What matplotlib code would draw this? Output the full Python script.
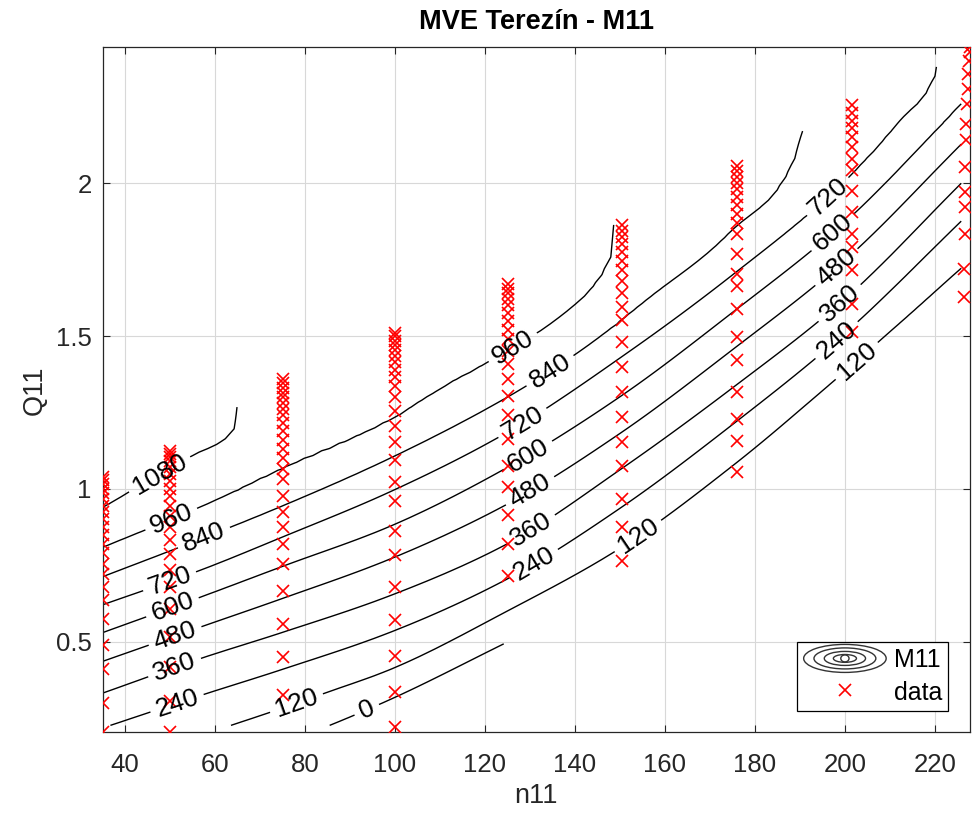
import numpy as np
import matplotlib
matplotlib.use("Agg")
import matplotlib.pyplot as plt
from matplotlib.legend_handler import HandlerBase
from matplotlib.patches import Ellipse
from matplotlib.lines import Line2D
from matplotlib.ticker import FuncFormatter

plt.rcParams['font.family'] = ['Liberation Sans', 'DejaVu Sans']

# ---------------- measured points (red x markers) ----------------
col_n11 = [35.05, 50.0, 75.1, 100.1, 125.2, 150.5, 176.0, 201.5]
q11_35 = [0.205, 0.30, 0.41, 0.49, 0.575, 0.635, 0.68, 0.72, 0.755, 0.79, 0.82,
          0.85, 0.875, 0.90, 0.925, 0.945, 0.965, 0.985, 1.0, 1.015, 1.03, 1.04]
q11_50 = [0.203, 0.307, 0.416, 0.514, 0.608, 0.678, 0.733, 0.788, 0.831, 0.874,
          0.91, 0.945, 0.975, 1.0, 1.025, 1.05, 1.07, 1.09, 1.105, 1.115, 1.125]
q11_75 = [0.324, 0.449, 0.558, 0.667, 0.755, 0.82, 0.874, 0.923, 0.978, 1.033,
          1.065, 1.10, 1.13, 1.16, 1.19, 1.215, 1.24, 1.26, 1.28, 1.30, 1.315,
          1.33, 1.345, 1.36]
q11_100 = [0.22, 0.334, 0.454, 0.569, 0.678, 0.782, 0.863, 0.961, 1.022, 1.093,
           1.153, 1.207, 1.256, 1.30, 1.335, 1.365, 1.39, 1.415, 1.435, 1.455,
           1.47, 1.485, 1.50, 1.51]
q11_125 = [0.716, 0.82, 0.913, 1.005, 1.076, 1.164, 1.24, 1.305, 1.36, 1.41,
           1.45, 1.49, 1.52, 1.55, 1.575, 1.60, 1.62, 1.64, 1.655, 1.67]
q11_150 = [0.765, 0.874, 0.967, 1.076, 1.153, 1.234, 1.316, 1.398, 1.48, 1.551,
           1.594, 1.64, 1.68, 1.715, 1.745, 1.775, 1.80, 1.825, 1.845, 1.865]
q11_175 = [1.054, 1.158, 1.229, 1.316, 1.42, 1.496, 1.589, 1.665, 1.704, 1.769,
           1.835, 1.87, 1.90, 1.93, 1.955, 1.98, 2.0, 2.02, 2.04, 2.055]
q11_200 = [1.513, 1.606, 1.715, 1.791, 1.835, 1.905, 1.976, 2.042, 2.08, 2.12,
           2.15, 2.18, 2.205, 2.23, 2.255]
n11_227 = [226.5, 226.5, 226.6, 226.6, 226.7, 226.8, 226.9, 227.0, 227.1, 227.3,
           227.4, 227.5, 227.7, 227.8]
q11_227 = [1.627, 1.72, 1.835, 1.922, 1.971, 2.053, 2.14, 2.195, 2.26, 2.31,
           2.358, 2.40, 2.43, 2.445]

# ------------- M11 field: Q11 of each contour level along n11 -------------
levels = [0, 120, 240, 360, 480, 600, 720, 840, 960, 1080]
lev_n = {
    0:    [35, 60, 82, 98.9, 124.4, 150, 175, 200, 228],
    120:  [35, 50, 61, 73, 85, 98.9, 125, 150, 175, 200, 226],
    240:  [35, 56.7, 75, 98.9, 125, 150, 175, 200, 226],
    360:  [35, 56.7, 75, 98.9, 125, 150, 175, 200, 226],
    480:  [35, 56.7, 75, 98.9, 125, 150, 175, 200, 226],
    600:  [35, 56.7, 75, 98.9, 125, 150, 175, 200, 226],
    720:  [35, 56.7, 75, 98.9, 125, 150, 175, 200, 212, 220.7, 223, 228],
    840:  [35, 56.7, 75, 98.9, 125, 140.4, 156.7, 175, 190.4, 193, 228],
    960:  [35, 56.7, 75, 98.9, 110.7, 125, 140.4, 146.2, 148.4, 150, 160, 228],
    1080: [35, 56, 61.8, 64.9, 66.5, 80, 228],
}
lev_q = {
    0:    [-0.05, 0.085, 0.205, 0.31, 0.494, 0.68, 0.88, 1.10, 1.35],
    120:  [0.085, 0.158, 0.213, 0.272, 0.334, 0.408, 0.60, 0.805, 1.075, 1.385, 1.724],
    240:  [0.217, 0.323, 0.409, 0.53, 0.705, 0.936, 1.21, 1.509, 1.878],
    360:  [0.331, 0.444, 0.530, 0.65, 0.82, 1.062, 1.33, 1.621, 2.002],
    480:  [0.435, 0.547, 0.641, 0.77, 0.95, 1.181, 1.455, 1.748, 2.130],
    600:  [0.529, 0.645, 0.746, 0.877, 1.07, 1.301, 1.577, 1.873, 2.261],
    720:  [0.62, 0.733, 0.842, 0.99, 1.185, 1.428, 1.70, 2.007, 2.20, 2.376, 2.7, 3.0],
    840:  [0.712, 0.835, 0.944, 1.10, 1.30, 1.443, 1.626, 1.845, 2.14, 2.6, 3.1],
    960:  [0.808, 0.94, 1.065, 1.224, 1.332, 1.45, 1.607, 1.705, 1.78, 2.1, 3.0, 3.3],
    1080: [0.938, 1.116, 1.158, 1.217, 1.6, 3.0, 3.4],
}

label_pos = [(48.4, 1.03), (49.6, 0.925), (57.8, 0.831), (50.0, 0.694),
             (50.7, 0.606), (51.1, 0.52), (51.1, 0.412), (51.6, 0.297),
             (78.4, 0.287), (94.0, 0.268),
             (126.2, 1.463), (134.4, 1.388), (128.4, 1.214), (129.6, 1.109),
             (130.0, 0.994), (130.4, 0.863), (131.1, 0.749), (154.4, 0.837),
             (196.0, 1.96), (197.3, 1.839), (198.4, 1.721), (198.9, 1.607),
             (198.2, 1.486), (202.9, 1.414)]


def pchip(x, y, xn):
    x = np.asarray(x, float)
    y = np.asarray(y, float)
    h = np.diff(x)
    d = np.diff(y) / h
    m = np.zeros_like(y)
    m[0], m[-1] = d[0], d[-1]
    for k in range(1, len(x) - 1):
        if d[k - 1] * d[k] > 0:
            w1 = 2 * h[k] + h[k - 1]
            w2 = h[k] + 2 * h[k - 1]
            m[k] = (w1 + w2) / (w1 / d[k - 1] + w2 / d[k])
    xn = np.clip(xn, x[0], x[-1])
    i = np.clip(np.searchsorted(x, xn) - 1, 0, len(x) - 2)
    t = (xn - x[i]) / h[i]
    h00 = 2 * t**3 - 3 * t**2 + 1
    h10 = t**3 - 2 * t**2 + t
    h01 = -2 * t**3 + 3 * t**2
    h11 = t**3 - t**2
    return h00 * y[i] + h10 * h[i] * m[i] + h01 * y[i + 1] + h11 * h[i] * m[i + 1]


def convex_hull(pts):
    pts = sorted(set(map(tuple, pts)))

    def cross(o, a, b):
        return (a[0] - o[0]) * (b[1] - o[1]) - (a[1] - o[1]) * (b[0] - o[0])
    lower, upper = [], []
    for p in pts:
        while len(lower) >= 2 and cross(lower[-2], lower[-1], p) <= 0:
            lower.pop()
        lower.append(p)
    for p in reversed(pts):
        while len(upper) >= 2 and cross(upper[-2], upper[-1], p) <= 0:
            upper.pop()
        upper.append(p)
    return np.array(lower[:-1] + upper[:-1])


# assemble data points
cols_q = [q11_35, q11_50, q11_75, q11_100, q11_125, q11_150, q11_175, q11_200]
pn = np.concatenate([np.full(len(q), n) for n, q in zip(col_n11, cols_q)] + [np.array(n11_227)])
pq = np.concatenate([np.array(q) for q in cols_q] + [np.array(q11_227)])

xmin, xmax = pn.min(), pn.max()
ymin, ymax = pq.min(), pq.max()

ng = np.linspace(xmin, xmax, 100)
qg = np.linspace(ymin, ymax, 100)
NG, QG = np.meshgrid(ng, qg)

cross_q = np.array([pchip(lev_n[L], lev_q[L], ng) for L in levels])
lo = cross_q[0] - (cross_q[1] - cross_q[0])
hi = cross_q[-1] + 0.5
cq = np.vstack([lo, cross_q, hi])
lv = np.array([levels[0] - 120] + levels + [levels[-1] + 120], float)
cq = np.maximum.accumulate(cq + np.arange(len(lv))[:, None] * 1e-6, axis=0)
Z = np.empty_like(NG)
for j in range(len(ng)):
    Z[:, j] = pchip(cq[:, j], lv, qg)

# mask outside convex hull of the measured points
hull = convex_hull(np.column_stack([pn, pq]))
sx, sy = xmax - xmin, ymax - ymin
H = np.column_stack([(hull[:, 0] - xmin) / sx, (hull[:, 1] - ymin) / sy])
PX = (NG - xmin) / sx
PY = (QG - ymin) / sy
inside = np.ones_like(NG, bool)
for k in range(len(H)):
    a, b = H[k], H[(k + 1) % len(H)]
    c = (b[0] - a[0]) * (PY - a[1]) - (b[1] - a[1]) * (PX - a[0])
    inside &= c >= -1e-9
Zm = np.ma.masked_where(~inside, Z)

# ---------------- figure ----------------
fig = plt.figure(figsize=(9.77, 8.17), dpi=100)
ax = fig.add_axes([0.1051, 0.1037, 0.8877, 0.8384])
dark = '#262626'

cs = ax.contour(NG, QG, Zm, levels=levels, colors='k', linewidths=1.0, zorder=2)
ax.clabel(cs, manual=label_pos, inline=True, fmt='%d', fontsize=19, inline_spacing=6)
ax.plot(pn, pq, linestyle='none', marker='x', color='red', ms=8.5, mew=1.2, zorder=3)

ax.set_xlim(xmin, xmax)
ax.set_ylim(ymin, ymax)
ax.set_xticks(np.arange(40, 221, 20))
ax.set_yticks([0.5, 1, 1.5, 2])
ax.yaxis.set_major_formatter(FuncFormatter(lambda v, p: '%g' % v))
ax.grid(True, color='#d8d8d8', linewidth=0.8)
ax.set_axisbelow(True)
ax.tick_params(direction='in', length=5, width=0.8, top=True, right=True,
               labelsize=18.5, colors=dark)
ax.tick_params(axis='x', pad=15)
ax.tick_params(axis='y', pad=8)
for s in ax.spines.values():
    s.set_color(dark)
    s.set_linewidth(0.9)

ax.set_title('MVE Terezín - M11', fontsize=19.5, fontweight='bold', color='k', pad=13)
ax.set_xlabel('n11', fontsize=19.5, color=dark, labelpad=4)
ax.set_ylabel('Q11', fontsize=19.5, color=dark, labelpad=6)


class ContourProxy:
    pass


class HandlerContour(HandlerBase):
    def create_artists(self, legend, orig_handle, xdescent, ydescent, width,
                       height, fontsize, trans):
        cx = width / 2 - xdescent
        cy = height / 2 - ydescent
        arts = []
        for f in [1.0, 0.75, 0.5, 0.28, 0.1]:
            e = Ellipse((cx, cy), width * f, height * 1.35 * max(f, 0.25), fill=False,
                        edgecolor='#333333', linewidth=1.0, transform=trans)
            arts.append(e)
        return arts


data_handle = Line2D([], [], linestyle='none', marker='x', color='red', ms=8.5, mew=1.2)
leg = ax.legend([ContourProxy(), data_handle], ['M11', 'data'],
                handler_map={ContourProxy: HandlerContour()},
                loc='lower right', bbox_to_anchor=(0.975, 0.031),
                borderaxespad=0, fontsize=18, handlelength=3.3, handleheight=0.9,
                fancybox=False, framealpha=1, edgecolor='k', borderpad=0.25,
                labelspacing=0.35, handletextpad=0.3)
leg.get_frame().set_linewidth(0.9)

fig.savefig('out.png', dpi=100)
